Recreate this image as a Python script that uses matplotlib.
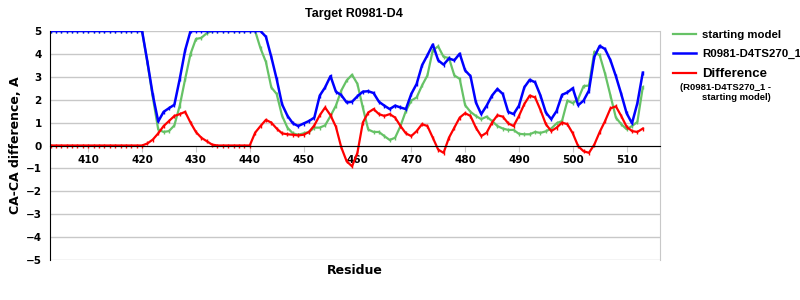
import matplotlib
matplotlib.use("Agg")
import matplotlib.pyplot as plt

# residues 403..513
residues = list(range(403, 514))

starting_model = [
    5, 5, 5, 5, 5, 5, 5, 5, 5, 5, 5, 5, 5, 5, 5, 5, 5, 5,          # 403-420
    3.6, 2.1, 0.7, 0.59, 0.63, 0.88, 1.74, 2.9, 4.0, 4.65,         # 421-430
    4.7, 4.9, 5, 5, 5, 5, 5, 5, 5, 5,                               # 431-440
    5, 4.24, 3.65, 2.54, 2.25, 1.3, 0.78, 0.53, 0.47, 0.53,         # 441-450
    0.59, 0.78, 0.78, 0.88, 1.29, 1.74, 2.4, 2.84, 3.09, 2.69,      # 451-460
    1.66, 0.7, 0.59, 0.59, 0.41, 0.24, 0.34, 0.85, 1.51, 1.96,      # 461-470
    2.1, 2.62, 3.06, 4.16, 4.33, 3.87, 3.82, 3.06, 2.91, 1.76,      # 471-480
    1.47, 1.29, 1.15, 1.26, 1.07, 0.85, 0.74, 0.68, 0.68, 0.51,     # 481-490
    0.49, 0.49, 0.59, 0.55, 0.62, 0.74, 0.97, 1.07, 1.96, 1.85,     # 491-500
    2.03, 2.59, 2.62, 4.09, 3.94, 3.13, 2.18, 1.22, 0.93, 0.71,     # 501-510
    0.85, 1.03, 2.54,                                               # 511-513
]

model_ts270 = [
    5, 5, 5, 5, 5, 5, 5, 5, 5, 5, 5, 5, 5, 5, 5, 5, 5, 5,          # 403-420
    3.65, 2.2, 1.05, 1.47, 1.63, 1.78, 2.91, 4.16, 5, 5,            # 421-430
    5, 5, 5, 5, 5, 5, 5, 5, 5, 5,                                   # 431-440
    5, 5, 4.75, 3.87, 2.9, 1.8, 1.3, 0.97, 0.85, 0.96,              # 441-450
    1.07, 1.22, 2.18, 2.54, 3.03, 2.35, 2.2, 1.88, 1.91, 2.15,      # 451-460
    2.35, 2.37, 2.29, 1.91, 1.74, 1.59, 1.74, 1.66, 1.59, 2.25,     # 461-470
    2.69, 3.5, 3.94, 4.41, 3.72, 3.53, 3.8, 3.72, 4.01, 3.28,       # 471-480
    3.03, 1.88, 1.37, 1.74, 2.18, 2.47, 2.25, 1.47, 1.37, 1.74,     # 481-490
    2.54, 2.87, 2.76, 2.18, 1.44, 1.15, 1.51, 2.21, 2.32, 2.5,      # 491-500
    1.76, 1.96, 2.4, 3.87, 4.35, 4.21, 3.72, 3.03, 2.25, 1.41,      # 501-510
    0.97, 1.85, 3.18,                                               # 511-513
]

difference = [
    0, 0, 0, 0, 0, 0, 0, 0, 0, 0, 0, 0, 0, 0, 0, 0, 0, 0,          # 403-420
    0.09, 0.26, 0.53, 0.85, 1.07, 1.29, 1.37, 1.47, 1.0, 0.59,      # 421-430
    0.34, 0.19, 0.04, 0, 0, 0, 0, 0, 0, 0,                          # 431-440
    0.56, 0.85, 1.12, 1.0, 0.74, 0.53, 0.49, 0.47, 0.44, 0.47,      # 441-450
    0.59, 0.88, 1.32, 1.66, 1.32, 0.82, -0.08, -0.69, -0.91, -0.32, # 451-460
    1.0, 1.44, 1.59, 1.37, 1.29, 1.37, 1.22, 0.85, 0.53, 0.41,      # 461-470
    0.63, 0.93, 0.85, 0.34, -0.18, -0.32, 0.34, 0.78, 1.22, 1.41,   # 471-480
    1.29, 0.78, 0.41, 0.56, 1.0, 1.32, 1.26, 0.97, 0.85, 1.29,      # 481-490
    1.81, 2.18, 2.1, 1.55, 0.93, 0.63, 0.78, 1.0, 0.93, 0.53,       # 491-500
    -0.03, -0.25, -0.32, 0.04, 0.59, 1.07, 1.62, 1.71, 1.29, 0.82,  # 501-510
    0.63, 0.59, 0.74,                                               # 511-513
]

x_ticks = list(range(410, 520, 10))
y_ticks = list(range(-5, 6))

fig = plt.figure(figsize=(8, 3), dpi=100)
ax = fig.add_axes([0.0625, 0.1333, 0.7625, 0.7634])

ax.plot(residues, starting_model, color="#66c266", lw=1.6, marker="|", ms=3,
        mew=1, label="starting model")
ax.plot(residues, model_ts270, color="#0000ff", lw=1.8, marker="|", ms=3,
        mew=1, label="R0981-D4TS270_1")
ax.plot(residues, difference, color="#ff0000", lw=1.6, marker="|", ms=3,
        mew=1, label="Difference")

ax.set_xlim(402.9, 516.2)
ax.set_ylim(-5, 5)
ax.set_xticks(x_ticks)
ax.set_yticks(y_ticks)
ax.set_yticklabels([str(v).replace("-", "\u2212") for v in y_ticks])
ax.grid(axis="y", color="#c8c8c8", lw=1)
ax.set_axisbelow(True)

ax.spines["bottom"].set_position(("data", 0))
ax.spines["top"].set_visible(False)
ax.spines["right"].set_color("#c8c8c8")
ax.spines["left"].set_color("black")
ax.tick_params(axis="x", direction="out", length=4, color="#c8c8c8", pad=3)
ax.tick_params(axis="y", length=0, pad=6)
for lab in ax.get_xticklabels() + ax.get_yticklabels():
    lab.set_fontweight("bold")
    lab.set_fontsize(7.5)
    lab.set_family("DejaVu Sans")

fig.text(0.443, 0.953, "Target R0981-D4", ha="center", va="center",
         fontsize=9, fontweight="bold", family="Liberation Sans")
fig.text(0.443, 0.1, "Residue", ha="center", va="center",
         fontsize=9, fontweight="bold", family="DejaVu Sans")
fig.text(0.019, 0.515, "CA-CA difference, A", ha="center", va="center",
         rotation=90, fontsize=9, fontweight="bold", family="DejaVu Sans")

leg = fig.legend(loc="upper left", bbox_to_anchor=(0.829, 0.934), frameon=False,
                 handlelength=2.0, handletextpad=0.5, labelspacing=0.78,
                 prop={"family": "Liberation Sans", "weight": "bold", "size": 8.2})
leg.get_texts()[2].set_fontsize(9.5)
for h in leg.legend_handles:
    h.set_marker("")

fig.text(0.85, 0.708, "(R0981-D4TS270_1 -", ha="left", va="center",
         fontsize=6.8, fontweight="bold", family="Liberation Sans")
fig.text(0.878, 0.675, "starting model)", ha="left", va="center",
         fontsize=6.8, fontweight="bold", family="Liberation Sans")

fig.savefig("out.png", dpi=100)
